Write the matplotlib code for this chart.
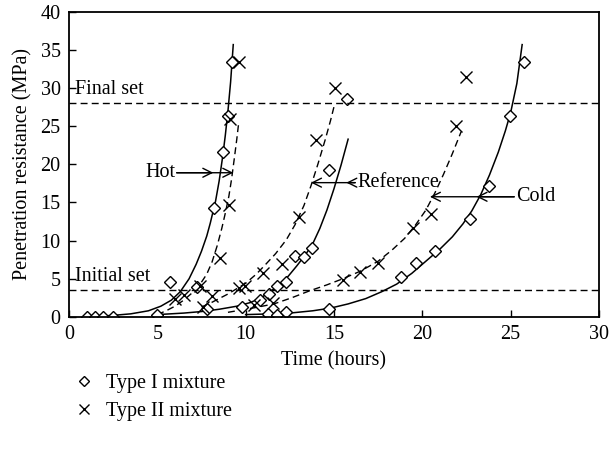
import matplotlib
matplotlib.use("Agg")
import matplotlib.pyplot as plt
from matplotlib.lines import Line2D

plt.rcParams['font.family'] = ['Liberation Serif', 'DejaVu Serif']

# measured points, Type I (diamonds) and Type II (crosses)
hot_t1 = [1.05, 1.5, 1.95, 2.5, 5.0, 5.7, 8.23, 8.7, 9.0, 9.24]
hot_v1 = [0, 0, 0, 0, 0.3, 4.6, 14.3, 21.6, 26.3, 33.4]
ref_t1 = [7.25, 7.8, 9.77, 10.8, 11.3, 11.75, 12.26, 12.8, 13.3, 13.73, 14.7, 15.75]
ref_v1 = [3.9, 1.1, 1.35, 2.2, 3.0, 4.0, 4.6, 8.0, 7.8, 9.0, 19.2, 28.6]
cold_t1 = [11.28, 11.75, 12.26, 14.7, 18.77, 19.67, 20.7, 22.7, 23.77, 24.96, 25.77]
cold_v1 = [0.4, 0.3, 0.6, 1.0, 5.2, 7.1, 8.6, 12.8, 17.2, 26.4, 33.4]

hot_t2 = [6.0, 6.5, 7.4, 8.07, 8.55, 9.07, 9.1, 9.6]
hot_v2 = [2.3, 2.9, 4.0, 2.7, 7.7, 14.7, 26.0, 33.4]
ref_t2 = [7.57, 9.64, 9.96, 10.5, 11.0, 11.56, 12.04, 13.0, 14.0, 15.05]
ref_v2 = [1.35, 3.8, 4.0, 1.6, 5.7, 1.8, 7.0, 13.1, 23.2, 30.0]
cold_t2 = [15.53, 16.47, 17.5, 19.5, 20.5, 21.9, 22.5]
cold_v2 = [4.9, 5.95, 7.1, 11.6, 13.5, 25.0, 31.4]

# fitted curves (solid = Type I, dashed = Type II)
hot_fit1_t = [1.0, 2.5, 3.5, 4.5, 5.2, 5.8, 6.3, 6.8, 7.2, 7.5, 7.8, 8.0, 8.3,
              8.5, 8.7, 8.85, 9.0, 9.15, 9.3]
hot_fit1_v = [0.0, 0.2, 0.4, 0.8, 1.4, 2.2, 3.3, 5.0, 6.9, 8.6, 10.6, 12.3, 15.2,
              17.8, 21.0, 23.8, 27.0, 30.8, 35.7]
hot_fit2_t = [5.0, 5.5, 6.0, 6.5, 7.0, 7.4, 7.8, 8.1, 8.4, 8.65, 8.85, 9.05,
              9.2, 9.35, 9.5, 9.6]
hot_fit2_v = [0.3, 0.8, 1.4, 2.2, 3.2, 4.2, 5.6, 7.2, 9.4, 11.6, 13.6, 15.8,
              18.0, 20.6, 23.3, 25.3]
ref_fit1_t = [5.0, 6.5, 7.5, 8.5, 9.5, 10.3, 11.0, 11.75, 12.4, 12.9, 13.4,
              13.8, 14.2, 14.6, 15.0, 15.4, 15.8]
ref_fit1_v = [0.3, 0.5, 0.7, 1.0, 1.4, 1.9, 2.7, 3.9, 5.3, 6.7, 8.2, 9.6,
              11.6, 14.0, 16.8, 19.9, 23.3]
ref_fit2_t = [7.5, 8.0, 8.5, 9.0, 9.5, 10.0, 10.6, 11.1, 11.7, 12.3, 12.8,
              13.3, 13.7, 14.1, 14.5, 14.8, 15.05]
ref_fit2_v = [1.3, 1.8, 2.4, 3.0, 3.7, 4.4, 5.6, 6.8, 8.3, 10.1, 12.1, 14.6,
              17.2, 20.1, 23.2, 25.7, 28.0]
cold_fit1_t = [10.0, 11.5, 12.5, 13.8, 14.8, 15.8, 16.8, 17.7, 18.55, 19.4,
               20.2, 21.0, 21.7, 22.3, 22.8, 23.3, 23.8, 24.3, 24.7, 25.0,
               25.35, 25.65]
cold_fit1_v = [0.3, 0.4, 0.5, 0.8, 1.15, 1.7, 2.4, 3.3, 4.3, 5.7, 7.3, 8.9,
               10.5, 12.2, 13.9, 16.0, 18.6, 21.6, 24.4, 26.8, 30.6, 35.7]
cold_fit2_t = [9.0, 10.5, 11.6, 12.6, 13.6, 14.6, 15.5, 16.5, 17.5, 18.3,
               19.0, 19.6, 20.2, 20.7, 21.2, 21.7, 22.2]
cold_fit2_v = [0.6, 1.2, 1.7, 2.5, 3.4, 4.2, 5.0, 6.0, 7.3, 8.8, 10.3, 12.0,
               14.0, 16.2, 18.7, 21.4, 24.3]

final_set = 28.1
initial_set = 3.5

fs = 14.5

fig = plt.figure(figsize=(6.1, 4.54), dpi=100)
ax = fig.add_axes([0.113, 0.302, 0.869, 0.672])

for t, v in [(hot_fit1_t, hot_fit1_v), (ref_fit1_t, ref_fit1_v), (cold_fit1_t, cold_fit1_v)]:
    ax.plot(t, v, color='black', lw=1.1)
for t, v in [(hot_fit2_t, hot_fit2_v), (ref_fit2_t, ref_fit2_v), (cold_fit2_t, cold_fit2_v)]:
    ax.plot(t, v, color='black', lw=1.0, ls=(0, (5, 3)))

for t, v in [(hot_t1, hot_v1), (ref_t1, ref_v1), (cold_t1, cold_v1)]:
    ax.plot(t, v, ls='none', marker='D', ms=6, mfc='white', mec='black', mew=1.0)
for t, v in [(hot_t2, hot_v2), (ref_t2, ref_v2), (cold_t2, cold_v2)]:
    ax.plot(t, v, ls='none', marker='x', ms=8, mec='black', mew=1.0)

ax.axhline(final_set, color='black', lw=1.0, ls=(0, (5, 3)))
ax.axhline(initial_set, color='black', lw=1.0, ls=(0, (5, 3)))
ax.text(0.35, 28.6, 'Final set', fontsize=fs, va='bottom')
ax.text(0.35, 4.0, 'Initial set', fontsize=fs, va='bottom')

arrow = dict(arrowstyle='->', color='black', lw=1.0, shrinkA=0, shrinkB=0,
             mutation_scale=16)
ax.text(6.0, 18.9, 'Hot', fontsize=fs, ha='right', va='center')
ax.annotate('', xy=(8.17, 18.9), xytext=(6.1, 18.9), arrowprops=arrow)
ax.annotate('', xy=(9.3, 18.9), xytext=(6.1, 18.9), arrowprops=arrow)

ax.text(16.3, 17.6, 'Reference', fontsize=fs, ha='left', va='center')
ax.annotate('', xy=(15.7, 17.6), xytext=(16.2, 17.6), arrowprops=arrow)
ax.annotate('', xy=(13.7, 17.6), xytext=(16.2, 17.6), arrowprops=arrow)

ax.text(25.3, 15.75, 'Cold', fontsize=fs, ha='left', va='center')
ax.annotate('', xy=(23.07, 15.75), xytext=(25.2, 15.75), arrowprops=arrow)
ax.annotate('', xy=(20.43, 15.75), xytext=(25.2, 15.75), arrowprops=arrow)

ax.set_xlim(0, 30)
ax.set_ylim(0, 40)
ax.set_xticks(range(0, 31, 5))
ax.set_yticks(range(0, 41, 5))
ax.tick_params(direction='in', length=5, labelsize=fs, width=1.0, pad=6)
for s in ax.spines.values():
    s.set_linewidth(1.3)
ax.set_xlabel('Time (hours)', fontsize=fs, labelpad=5)
ax.set_ylabel('Penetration resistance (MPa)', fontsize=fs, labelpad=6)

handles = [
    Line2D([], [], ls='none', marker='D', ms=5, mfc='white', mec='black', mew=1.0),
    Line2D([], [], ls='none', marker='x', ms=7, mec='black', mew=1.0),
]
fig.legend(handles, ['Type I mixture', 'Type II mixture'], loc='upper left',
           bbox_to_anchor=(0.108, 0.195), frameon=False, fontsize=fs,
           handlelength=1.0, handletextpad=0.6, labelspacing=0.45,
           borderaxespad=0)

fig.savefig('out.png', dpi=100)
